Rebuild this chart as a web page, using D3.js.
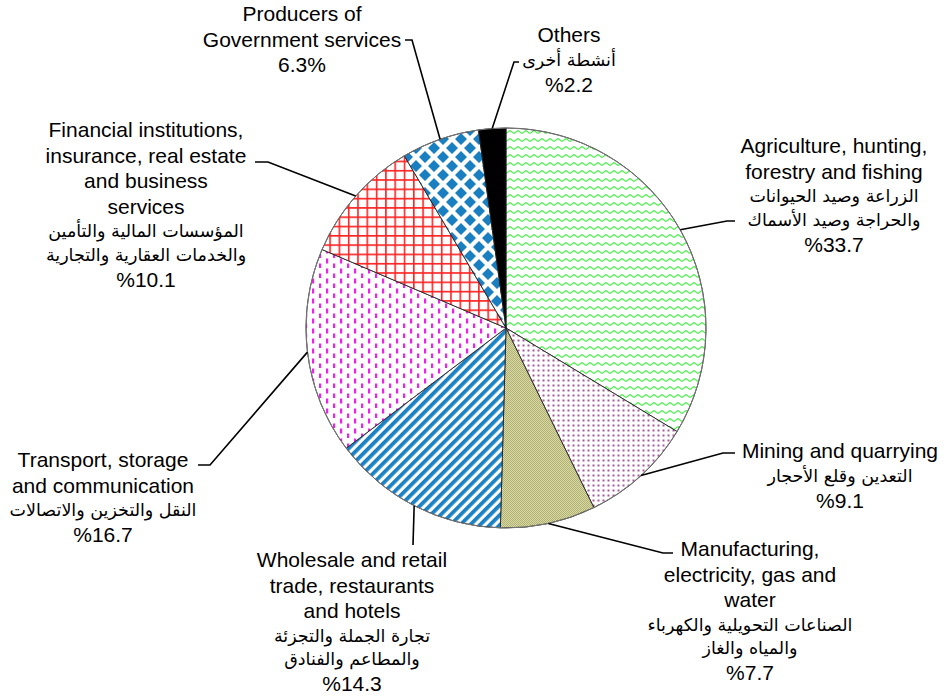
<!DOCTYPE html>
<html>
<head>
<meta charset="utf-8">
<title>GDP by economic activity</title>
<script src="https://d3js.org/d3.v7.min.js"></script>
<style>
    body {margin:0; background:#fff;}
    text {font-family:"Liberation Sans", Arial, sans-serif; fill:#000;}
    .ar {font-family:"DejaVu Sans", "Liberation Sans", sans-serif;}
    .leader {fill:none; stroke:#000; stroke-width:1.6px;}
</style>
</head>
<body>
<svg id="chart" width="945" height="699"></svg>
<script>
// ---- data ----
var sectors = ["Agriculture", "Mining", "Manufacturing", "Wholesale", "Transport", "Financial", "Producers", "Others"];
var shares = [33.7, 9.1, 7.7, 14.3, 16.7, 10.1, 6.3, 2.2];
var englishLines = [
    ["Agriculture, hunting,", "forestry and fishing"],
    ["Mining and quarrying"],
    ["Manufacturing,", "electricity, gas and", "water"],
    ["Wholesale and retail", "trade, restaurants", "and hotels"],
    ["Transport, storage", "and communication"],
    ["Financial institutions,", "insurance, real estate", "and business", "services"],
    ["Producers of", "Government services"],
    ["Others"]
];
var arabicLines = [
    ["الزراعة وصيد الحيوانات", "والحراجة  وصيد الأسماك"],
    ["التعدين وقلع الأحجار"],
    ["الصناعات التحويلية والكهرباء", "والمياه والغاز"],
    ["تجارة الجملة والتجزئة", "والمطاعم والفنادق"],
    ["النقل والتخزين والاتصالات"],
    ["المؤسسات المالية والتأمين", "والخدمات العقارية والتجارية"],
    [],
    ["أنشطة أخرى"]
];
var pctLabels = ["%33.7", "%9.1", "%7.7", "%14.3", "%16.7", "%10.1", "6.3%", "%2.2"];

// ---- layout ----
var svg = d3.select("#chart");
var cx = 506, cy = 328, R = 200;
// label block centre x, first baseline y, leader elbow, leader end
var labelPos = [
    {x:834, y:153, elbow:[727, 221], end:[735, 221]},
    {x:840, y:458, elbow:[723, 453], end:[735, 453]},
    {x:750, y:556, elbow:[663, 553], end:[673, 553]},
    {x:352, y:567, elbow:null, end:[413, 545]},
    {x:103, y:467, elbow:[210, 465], end:[198, 465]},
    {x:146, y:137, elbow:[268, 162], end:[255, 162]},
    {x:302, y:21, elbow:[412, 40], end:[405, 40]},
    {x:569, y:42, elbow:[514, 62], end:[519, 62]}
];

// ---- fill patterns ----
var defs = svg.append("defs");
function pat(id, w, h) {
    return defs.append("pattern").attr("id", id).attr("patternUnits", "userSpaceOnUse")
        .attr("width", w).attr("height", h);
}
var p;
p = pat("p0", 8, 8);
p.append("rect").attr("width", 8).attr("height", 8).attr("fill", "#fff");
p.append("path").attr("d", "M0,5.5 L4,2.5 L8,5.5").attr("fill", "none").attr("stroke", "#55ee55").attr("stroke-width", 1.4);

p = pat("p1", 5, 5);
p.append("rect").attr("width", 5).attr("height", 5).attr("fill", "#fff");
p.append("rect").attr("x", 1.5).attr("y", 1.5).attr("width", 2).attr("height", 2).attr("fill", "#a8589a");

p = pat("p2", 2, 2);
p.append("rect").attr("width", 2).attr("height", 2).attr("fill", "#dadaa8");
p.append("rect").attr("width", 1).attr("height", 1).attr("fill", "#b0b070");
p.append("rect").attr("x", 1).attr("y", 1).attr("width", 1).attr("height", 1).attr("fill", "#b0b070");

p = pat("p3", 7, 7).attr("patternTransform", "rotate(45)");
p.append("rect").attr("width", 7).attr("height", 7).attr("fill", "#fff");
p.append("rect").attr("x", 0).attr("width", 3.8).attr("height", 7).attr("fill", "#1a82c4");

p = pat("p4", 14, 10);
p.append("rect").attr("width", 14).attr("height", 10).attr("fill", "#fff");
p.append("rect").attr("x", 2).attr("y", 0.5).attr("width", 2.2).attr("height", 5).attr("fill", "#ee22ee");
p.append("rect").attr("x", 9).attr("y", 5.5).attr("width", 2.2).attr("height", 5).attr("fill", "#ee22ee");

p = pat("p5", 9.3, 9.3);
p.append("rect").attr("width", 9.3).attr("height", 9.3).attr("fill", "#fff");
p.append("path").attr("d", "M0.8,0 V9.3 M0,0.8 H9.3").attr("stroke", "#ff2222").attr("stroke-width", 1.6);

p = pat("p6", 18, 18);
p.append("rect").attr("width", 18).attr("height", 18).attr("fill", "#fff");
p.append("path").attr("d", "M9,3 L15,9 L9,15 L3,9 Z M0,-6 L6,0 L0,6 L-6,0 Z M18,-6 L24,0 L18,6 L12,0 Z M0,12 L6,18 L0,24 L-6,18 Z M18,12 L24,18 L18,24 L12,18 Z")
    .attr("fill", "#1a7fc0");

p = pat("p7", 4, 4);
p.append("rect").attr("width", 4).attr("height", 4).attr("fill", "#000");

// ---- pie ----
var pie = d3.pie().sort(null).value(function (d) { return d; });
var arcs = pie(shares);
var arc = d3.arc().innerRadius(0).outerRadius(R);
var g = svg.append("g").attr("transform", "translate(" + cx + "," + cy + ")");

g.selectAll("path.slice").data(arcs).enter().append("path")
    .attr("class", "slice")
    .attr("d", arc)
    .attr("fill", function (d, i) { return "url(#p" + i + ")"; })
    .attr("stroke", "#222")
    .attr("stroke-width", 0.9)
    .attr("stroke-linejoin", "round");

g.append("circle").attr("r", R).attr("fill", "none").attr("stroke", "#777").attr("stroke-width", 1);

// ---- leader lines ----
arcs.forEach(function (d, i) {
    var a = (d.startAngle + d.endAngle) / 2;
    var start = [cx + Math.sin(a) * R, cy - Math.cos(a) * R];
    var lp = labelPos[i];
    var pts = [start];
    if (lp.elbow) pts.push(lp.elbow);
    pts.push(lp.end);
    svg.append("path").attr("class", "leader").attr("d", d3.line()(pts));
});

// ---- labels ----
sectors.forEach(function (s, i) {
    var lp = labelPos[i];
    var t = svg.append("g").attr("class", "label");
    var y = lp.y;
    englishLines[i].forEach(function (line, k) {
        if (k > 0) y += 25.5;
        t.append("text").attr("x", lp.x).attr("y", y).attr("text-anchor", "middle")
            .attr("font-size", "21px").text(line);
    });
    arabicLines[i].forEach(function (line) {
        y += 23.5;
        t.append("text").attr("class", "ar").attr("x", lp.x).attr("y", y).attr("text-anchor", "middle")
            .attr("font-size", "17.5px").text(line);
    });
    y += arabicLines[i].length ? 26 : 25.5;
    t.append("text").attr("x", lp.x).attr("y", y).attr("text-anchor", "middle")
        .attr("font-size", "21px").text(pctLabels[i]);
});
</script>
</body>
</html>
